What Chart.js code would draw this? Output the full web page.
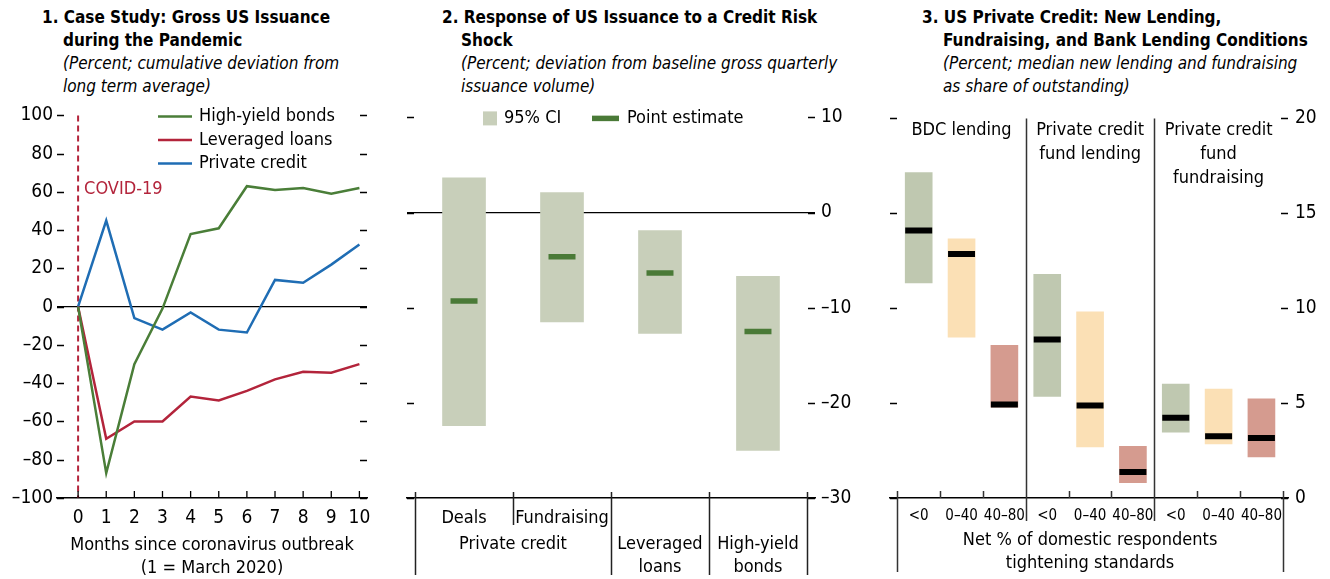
<!DOCTYPE html>
<html>
<head>
<meta charset="utf-8">
<script src="https://cdn.jsdelivr.net/npm/chart.js@4.4.0/dist/chart.umd.min.js"></script>
<style>
  body { margin: 0; width: 1330px; height: 579px; background: #fff; position: relative; overflow: hidden;
         font-family: "DejaVu Sans Condensed", "DejaVu Sans", sans-serif; color: #000; }
  .title { position: absolute; font-size: 17px; line-height: 23px; white-space: nowrap; }
  .title div { padding-left: 21px; }
  .title div.first { padding-left: 0; }
  .title b { font-weight: bold; }
  .title i { font-style: italic; }
  canvas { position: absolute; top: 100px; }
</style>
</head>
<body>
<div class="title" style="left:42px; top:6px">
  <div class="first"><b>1. Case Study: Gross US Issuance</b></div>
  <div><b>during the Pandemic</b></div>
  <div><i>(Percent; cumulative deviation from</i></div>
  <div><i>long term average)</i></div>
</div>
<div class="title" style="left:442px; top:6px">
  <div class="first"><b>2. Response of US Issuance to a Credit Risk</b></div>
  <div style="padding-left:19px"><b>Shock</b></div>
  <div style="padding-left:19px"><i>(Percent; deviation from baseline gross quarterly</i></div>
  <div style="padding-left:19px"><i>issuance volume)</i></div>
</div>
<div class="title" style="left:922px; top:6px">
  <div class="first"><b>3. US Private Credit: New Lending,</b></div>
  <div><b>Fundraising, and Bank Lending Conditions</b></div>
  <div><i>(Percent; median new lending and fundraising</i></div>
  <div><i>as share of outstanding)</i></div>
</div>

<canvas id="c1" width="390" height="479" style="left:0px"></canvas>
<canvas id="c2" width="465" height="479" style="left:395px"></canvas>
<canvas id="c3" width="455" height="479" style="left:875px"></canvas>

<script>
// Panel 1: gross US issuance during the pandemic
const months = [0, 1, 2, 3, 4, 5, 6, 7, 8, 9, 10];
const highYield = [0, -87, -30, -1, 38, 41, 63, 61, 62, 59, 62];
const leveragedLoans = [0, -69, -60, -60, -47, -49, -44, -38, -34, -34.5, -30];
const privateCredit = [0, 45, -6, -12, -3, -12, -13.5, 14, 12.5, 22, 32.5];
const covidMonth = 0;

// Panel 2: response to a credit risk shock
const shockCats = ["Deals", "Fundraising", "Leveraged loans", "High-yield bonds"];
const ciLow = [-22.4, -11.5, -12.7, -25.0];
const ciHigh = [3.65, 2.1, -1.9, -6.7];
const pointEst = [-9.3, -4.65, -6.35, -12.5];

// Panel 3: new lending / fundraising by bank tightening bucket
const groups = [["BDC lending"], ["Private credit", "fund lending"], ["Private credit", "fund", "fundraising"]];
const buckets = ["<0", "0\u201340", "40\u201380"];
const rangeLow = [11.33, 8.47, 4.78, 5.35, 2.69, 0.81, 3.47, 2.85, 2.17];
const rangeHigh = [17.15, 13.66, 8.04, 11.79, 9.81, 2.72, 6.0, 5.74, 5.22];
const medians = [14.1, 12.85, 4.92, 8.35, 4.88, 1.37, 4.23, 3.26, 3.16];

const FONT = '"DejaVu Sans Condensed", "DejaVu Sans", sans-serif';
Chart.defaults.font.family = FONT;
Chart.defaults.font.size = 19;
Chart.defaults.color = "#000";
Chart.defaults.animation = false;

const GREEN = "#4a7e38", RED = "#b3243b", BLUE = "#1f6db4";
const CI_COLOR = "#c8cfba", EST_COLOR = "#4a7a37";
const bucketColors = ["#bfc8b0", "#fbe0b5", "#d59b8f"];

const dashLabel = (v) => (v < 0 ? "\u2013" + Math.abs(v) : String(v));

function text(ctx, str, x, y, size, align, color) {
  ctx.font = (size || 18) + "px " + FONT;
  ctx.fillStyle = color || "#000";
  ctx.textAlign = align || "center";
  ctx.textBaseline = "middle";
  ctx.fillText(str, x, y);
}

// short tick marks drawn inside the plot on both sides
const innerTicks = {
  id: "innerTicks",
  afterDatasetsDraw(chart, args, opts) {
    const { ctx, chartArea: a } = chart;
    const ys = chart.scales.y;
    ctx.save();
    ctx.strokeStyle = "#000";
    ctx.lineWidth = 1.3;
    ctx.beginPath();
    ys.ticks.forEach((t) => {
      const py = Math.round(ys.getPixelForValue(t.value)) + 0.5;
      ctx.moveTo(a.left, py); ctx.lineTo(a.left + 7, py);
      ctx.moveTo(a.right, py); ctx.lineTo(a.right - 7, py);
    });
    if (opts.xTicks) {
      chart.scales.x.ticks.forEach((t) => {
        const px = chart.scales.x.getPixelForValue(t.value);
        ctx.moveTo(px, a.bottom); ctx.lineTo(px, a.bottom - 7);
      });
    }
    ctx.stroke();
    ctx.restore();
  }
};

// ---------- Panel 1 ----------
new Chart(document.getElementById("c1"), {
  type: "line",
  data: {
    datasets: [
      { label: "High-yield bonds", data: months.map((m, i) => ({ x: m, y: highYield[i] })), borderColor: GREEN },
      { label: "Leveraged loans", data: months.map((m, i) => ({ x: m, y: leveragedLoans[i] })), borderColor: RED },
      { label: "Private credit", data: months.map((m, i) => ({ x: m, y: privateCredit[i] })), borderColor: BLUE }
    ]
  },
  options: {
    responsive: false,
    layout: { autoPadding: false, padding: { top: 14, right: 23, left: 0, bottom: 0 } },
    elements: { line: { borderWidth: 2.5, tension: 0 }, point: { radius: 0 } },
    plugins: { legend: { display: false }, tooltip: { enabled: false }, innerTicks: { xTicks: true } },
    scales: {
      x: {
        type: "linear", min: -0.75, max: 10.27, offset: false,
        afterBuildTicks: (s) => { s.ticks = months.map((v) => ({ value: v })); },
        afterFit: (s) => { s.height = 81; },
        ticks: { padding: 9, maxRotation: 0, autoSkip: false },
        grid: { color: "transparent", drawTicks: false },
        border: { display: true, color: "#000", width: 1.5 }
      },
      y: {
        min: -100, max: 100,
        ticks: { stepSize: 20, padding: 4, callback: dashLabel },
        afterFit: (s) => { s.width = 57; },
        grid: { drawTicks: false, color: (c) => (c.tick && c.tick.value === 0 ? "#000" : "transparent"), lineWidth: 1.2 },
        border: { display: false }
      }
    }
  },
  plugins: [innerTicks, {
    id: "panel1Extras",
    beforeDatasetsDraw(chart) {
      const { ctx, chartArea: a, scales: { x } } = chart;
      const px = x.getPixelForValue(covidMonth);
      ctx.save();
      ctx.strokeStyle = RED;
      ctx.lineWidth = 2;
      ctx.setLineDash([6, 4]);
      ctx.beginPath();
      ctx.moveTo(px, a.top); ctx.lineTo(px, a.bottom);
      ctx.stroke();
      ctx.restore();
      text(ctx, "COVID-19", px + 6, a.top + 74, 18, "left", RED);
    },
    afterDraw(chart) {
      const { ctx, chartArea: a } = chart;
      chart.data.datasets.forEach((ds, i) => {
        const y = a.top + 1 + i * 23.5;
        ctx.save();
        ctx.strokeStyle = ds.borderColor;
        ctx.lineWidth = 2.5;
        ctx.beginPath();
        ctx.moveTo(158, y); ctx.lineTo(192, y);
        ctx.stroke();
        ctx.restore();
        text(ctx, ds.label, 199, y, 18, "left");
      });
      const cx = (a.left + a.right) / 2;
      text(ctx, "Months since coronavirus outbreak", cx, a.bottom + 47, 18);
      text(ctx, "(1 = March 2020)", cx, a.bottom + 70, 18);
    }
  }]
});

// ---------- Panel 2 ----------
new Chart(document.getElementById("c2"), {
  type: "bar",
  data: {
    datasets: [
      { type: "bar", label: "95% CI", data: ciLow.map((lo, i) => ({ x: i, y: [lo, ciHigh[i]] })),
        backgroundColor: CI_COLOR, barThickness: 43, borderWidth: 0, order: 2 },
      { type: "scatter", label: "Point estimate", data: pointEst.map((v, i) => ({ x: i, y: v })),
        pointStyle: "line", pointRadius: 13.5, borderWidth: 5.5, borderColor: EST_COLOR, order: 1 }
    ]
  },
  options: {
    responsive: false,
    layout: { autoPadding: false, padding: { top: 14, left: 12, right: 0, bottom: 0 } },
    plugins: { legend: { display: false }, tooltip: { enabled: false }, innerTicks: {} },
    scales: {
      x: {
        type: "linear", min: -0.582, max: 3.582, offset: false,
        ticks: { display: false },
        afterFit: (s) => { s.height = 81; },
        grid: { color: "transparent", drawTicks: false, offset: false },
        border: { display: true, color: "#000", width: 1.5 }
      },
      y: {
        position: "right", min: -30, max: 10,
        ticks: { stepSize: 10, padding: 6, callback: dashLabel },
        afterFit: (s) => { s.width = 45; },
        grid: { drawTicks: false, color: (c) => (c.tick && c.tick.value === 0 ? "#000" : "transparent"), lineWidth: 1.2 },
        border: { display: false }
      }
    }
  },
  plugins: [innerTicks, {
    id: "panel2Extras",
    afterDraw(chart) {
      const { ctx, chartArea: a, scales: { x } } = chart;
      // legend
      const ly = a.top + 1;
      ctx.fillStyle = CI_COLOR;
      ctx.fillRect(a.left + 76, ly - 7, 14, 14);
      text(ctx, "95% CI", a.left + 97, ly, 18, "left");
      ctx.fillStyle = EST_COLOR;
      ctx.fillRect(a.left + 185, ly - 2.75, 27, 5.5);
      text(ctx, "Point estimate", a.left + 220, ly, 18, "left");
      // category separators below the axis
      ctx.save();
      ctx.strokeStyle = "#222";
      ctx.lineWidth = 1.5;
      ctx.beginPath();
      [-0.5, 0.5, 1.5, 2.5, 3.5].forEach((v) => {
        const px = Math.round(x.getPixelForValue(v)) + 0.5;
        ctx.moveTo(px, a.bottom - 6);
        ctx.lineTo(px, v === 0.5 ? a.bottom + 27 : a.bottom + 77);
      });
      ctx.stroke();
      ctx.restore();
      text(ctx, shockCats[0], x.getPixelForValue(0), a.bottom + 20, 18);
      text(ctx, shockCats[1], x.getPixelForValue(1), a.bottom + 20, 18);
      text(ctx, "Private credit", x.getPixelForValue(0.5), a.bottom + 46, 18);
      [2, 3].forEach((i) => {
        const parts = shockCats[i].split(" ");
        text(ctx, parts[0], x.getPixelForValue(i), a.bottom + 46, 18);
        text(ctx, parts[1], x.getPixelForValue(i), a.bottom + 69, 18);
      });
    }
  }]
});

// ---------- Panel 3 ----------
new Chart(document.getElementById("c3"), {
  type: "bar",
  data: {
    datasets: [
      { type: "bar", label: "Range", data: rangeLow.map((lo, i) => ({ x: i, y: [lo, rangeHigh[i]] })),
        backgroundColor: rangeLow.map((_, i) => bucketColors[i % 3]), barThickness: 27, borderWidth: 0, order: 2 },
      { type: "scatter", label: "Median", data: medians.map((v, i) => ({ x: i, y: v })),
        pointStyle: "line", pointRadius: 13.5, borderWidth: 6, borderColor: "#000", order: 1 }
    ]
  },
  options: {
    responsive: false,
    layout: { autoPadding: false, padding: { top: 14, left: 15, right: 0, bottom: 0 } },
    plugins: { legend: { display: false }, tooltip: { enabled: false }, innerTicks: {} },
    scales: {
      x: {
        type: "linear", min: -0.67, max: 8.62, offset: false,
        ticks: { display: false },
        afterFit: (s) => { s.height = 81; },
        grid: { color: "transparent", drawTicks: false, offset: false },
        border: { display: true, color: "#000", width: 1.5 }
      },
      y: {
        position: "right", min: 0, max: 20,
        ticks: { stepSize: 5, padding: 7 },
        afterFit: (s) => { s.width = 42; },
        grid: { drawTicks: false, color: "transparent" },
        border: { display: false }
      }
    }
  },
  plugins: [innerTicks, {
    id: "panel3Extras",
    afterDraw(chart) {
      const { ctx, chartArea: a, scales: { x } } = chart;
      ctx.save();
      ctx.strokeStyle = "#333";
      ctx.lineWidth = 1.5;
      ctx.beginPath();
      for (let k = 0; k <= 9; k++) {
        const v = k - 0.5;
        const px = Math.round(x.getPixelForValue(v)) + 0.5;
        if (k === 3 || k === 6) {
          ctx.moveTo(px, a.top); ctx.lineTo(px, a.bottom + 23);
        } else if (k === 0 || k === 9) {
          ctx.moveTo(px, a.bottom - 7); ctx.lineTo(px, a.bottom + 74);
        } else {
          ctx.moveTo(px, a.bottom - 7); ctx.lineTo(px, a.bottom);
        }
      }
      ctx.stroke();
      ctx.restore();
      groups.forEach((lines, g) => {
        const cx = x.getPixelForValue(g * 3 + 1);
        lines.forEach((ln, j) => text(ctx, ln, cx, a.top + 12 + j * 24, 18));
        buckets.forEach((b, j) => text(ctx, b, x.getPixelForValue(g * 3 + j), a.bottom + 18, 15));
      });
      const cx = x.getPixelForValue(4);
      text(ctx, "Net % of domestic respondents", cx, a.bottom + 42, 18);
      text(ctx, "tightening standards", cx, a.bottom + 65, 18);
    }
  }]
});
</script>
</body>
</html>
